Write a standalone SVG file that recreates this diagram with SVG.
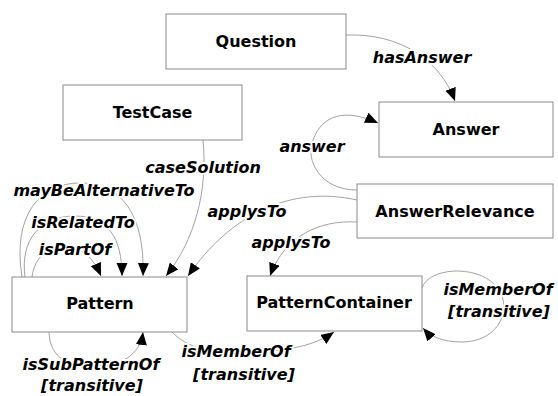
<svg xmlns="http://www.w3.org/2000/svg" width="558" height="396" viewBox="0 0 558 396">
<style>
.box{fill:#fff;stroke:#8a8a8a;stroke-width:1}
.nt{font-family:"DejaVu Sans",sans-serif;font-weight:bold;font-size:16px;fill:#000;text-anchor:middle}
.lb{font-family:"DejaVu Sans",sans-serif;font-weight:bold;font-style:italic;font-size:16px;fill:#000;text-anchor:middle;stroke:#fff;stroke-width:4;paint-order:stroke;stroke-linejoin:round}
.ln{fill:none;stroke:#999;stroke-width:0.9;marker-end:url(#ah)}
.ln0{fill:none;stroke:#999;stroke-width:0.9}
</style>
<defs>
<marker id="ah" markerUnits="userSpaceOnUse" markerWidth="14" markerHeight="12" refX="13" refY="5.5" orient="auto">
<path d="M0,0 L13,5.5 L0,11 z" fill="#000"/>
</marker>
</defs>
<g id="connectors">
<path class="ln" d="M346,35 C400,33 440,60 455,101"/>
<path class="ln" d="M357,190 C320,190 305,160 313,140 C322,115 345,108 378,123"/>
<path class="ln" d="M357,200 C290,185 230,215 188,276"/>
<path class="ln" d="M357,222 C320,220 285,235 270,276"/>
<path class="ln" d="M203,140 C208,190 195,240 166,276"/>
<path class="ln" d="M22,277 C12,215 40,183 80,183 C122,183 145,215 143,276"/>
<path class="ln" d="M25,277 C20,240 40,216 75,216 C108,216 122,238 122,276"/>
<path class="ln" d="M32,277 C34,260 45,247 65,247 C85,247 95,262 101,276"/>
<path class="ln" d="M49,332 C50,360 70,366 95,366 C120,366 140,356 143,332"/>
<path class="ln" d="M172,332 C185,345 200,352 240,352 C290,352 315,345 334,332"/>
<path class="ln" d="M422,288 C428,268 475,264 495,285 C515,306 500,342 462,342 C442,342 430,336 423,328"/>
</g>
<g id="Question"><rect class="box" x="166" y="14" width="180" height="55"/><text class="nt" x="256" y="47">Question</text></g>
<g id="TestCase"><rect class="box" x="63" y="85" width="179" height="55"/><text class="nt" x="152.5" y="118">TestCase</text></g>
<g id="Answer"><rect class="box" x="379" y="102" width="174" height="55"/><text class="nt" x="466" y="135">Answer</text></g>
<g id="AnswerRelevance"><rect class="box" x="357" y="184" width="196" height="54"/><text class="nt" x="455" y="217">AnswerRelevance</text></g>
<g id="Pattern"><rect class="box" x="12" y="277" width="175" height="55"/><text class="nt" x="100" y="309">Pattern</text></g>
<g id="PatternContainer"><rect class="box" x="247" y="276" width="175" height="55"/><text class="nt" x="334" y="308">PatternContainer</text></g>
<g id="labels">
<text class="lb" x="422" y="63">hasAnswer</text>
<text class="lb" x="312" y="152">answer</text>
<text class="lb" x="247" y="217">applysTo</text>
<text class="lb" x="291" y="248">applysTo</text>
<text class="lb" x="203" y="173">caseSolution</text>
<text class="lb" x="104" y="196">mayBeAlternativeTo</text>
<text class="lb" x="83" y="228">isRelatedTo</text>
<text class="lb" x="75" y="255">isPartOf</text>
<text class="lb" x="91" y="370">isSubPatternOf</text>
<text class="lb" x="92" y="391">[transitive]</text>
<text class="lb" x="236" y="357">isMemberOf</text>
<text class="lb" x="244" y="380">[transitive]</text>
<text class="lb" x="498" y="295">isMemberOf</text>
<text class="lb" x="499" y="317">[transitive]</text>
</g>
</svg>
